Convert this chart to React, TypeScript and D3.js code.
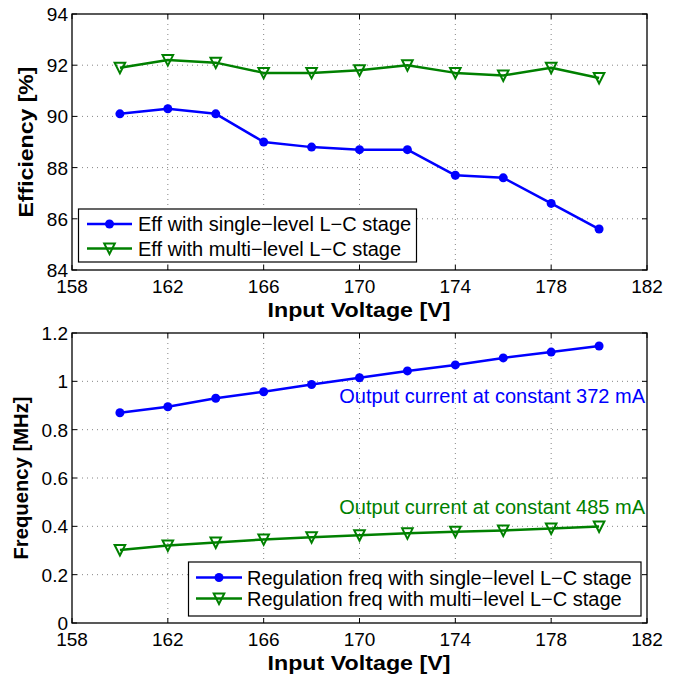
import React from "react";
import * as d3 from "d3";

// input voltage [V]
const voltages = [160, 162, 164, 166, 168, 170, 172, 174, 176, 178, 180];
const voltageTicks = [158, 162, 166, 170, 174, 178, 182];

// efficiency [%]
const effSingle = [90.1, 90.3, 90.1, 89.0, 88.8, 88.7, 88.7, 87.7, 87.6, 86.6, 85.6];
const effMulti = [91.9, 92.2, 92.1, 91.7, 91.7, 91.8, 92.0, 91.7, 91.6, 91.9, 91.5];
const effTicks = [84, 86, 88, 90, 92, 94];

// regulation frequency [MHz]
const freqSingle = [0.87, 0.895, 0.93, 0.957, 0.987, 1.015, 1.043, 1.068, 1.097, 1.121, 1.146];
const freqMulti = [0.302, 0.321, 0.333, 0.346, 0.355, 0.363, 0.371, 0.378, 0.383, 0.391, 0.399];
const freqTicks = [0, 0.2, 0.4, 0.6, 0.8, 1, 1.2];

const effLegend = ["Eff with single\u2212level L\u2212C stage", "Eff with multi\u2212level L\u2212C stage"];
const freqLegend = [
  "Regulation freq with single\u2212level L\u2212C stage",
  "Regulation freq with multi\u2212level L\u2212C stage",
];

const BLUE = "#0000ff";
const GREEN = "#008000";
const FONT = "'Liberation Sans', Arial, Helvetica, sans-serif";

const left = 72;
const right = 647;

const Triangle = ({ x, y }) => (
  <path
    d={`M${x - 5.3},${y - 5}L${x + 5.3},${y - 5}L${x},${y + 5.5}Z`}
    fill="none"
    stroke={GREEN}
    strokeWidth={2}
    strokeLinejoin="miter"
  />
);

const Dot = ({ x, y }) => <circle cx={x} cy={y} r={4.5} fill={BLUE} />;

const Legend = ({ box, lineX, textX, rowsY, labels }) => (
  <g>
    <rect
      x={box.x}
      y={box.y}
      width={box.w}
      height={box.h}
      fill="#fff"
      stroke="#000"
      strokeWidth={1.2}
    />
    {labels.map((label, i) => {
      const cy = rowsY[i];
      const mid = (lineX[0] + lineX[1]) / 2;
      const color = i === 0 ? BLUE : GREEN;
      return (
        <g key={label}>
          <line x1={lineX[0]} x2={lineX[1]} y1={cy} y2={cy} stroke={color} strokeWidth={2.5} />
          {i === 0 ? <Dot x={mid} y={cy} /> : <Triangle x={mid} y={cy} />}
          <text x={textX} y={cy + 7} fontSize={20} fontFamily={FONT} fill="#000">
            {label}
          </text>
        </g>
      );
    })}
  </g>
);

const Panel = ({ top, bottom, yDomain, yTicks, yLabel, yLabelX, ySingle, yMulti, legend, labelLength, children }) => {
  const x = d3.scaleLinear().domain([158, 182]).range([left, right]);
  const y = d3.scaleLinear().domain(yDomain).range([bottom, top]);
  const line = d3
    .line<number>()
    .x((d, i) => x(voltages[i]))
    .y((d) => y(d));
  const tickLen = 5;

  return (
    <g>
      {/* grid */}
      {voltageTicks.slice(1, -1).map((t) => (
        <line key={"gx" + t} x1={x(t)} x2={x(t)} y1={top} y2={bottom} stroke="#666" strokeWidth={0.8} strokeDasharray="1 4" />
      ))}
      {yTicks.slice(1, -1).map((t) => (
        <line key={"gy" + t} x1={left} x2={right} y1={y(t)} y2={y(t)} stroke="#666" strokeWidth={0.8} strokeDasharray="1 4" />
      ))}

      {/* frame and inward ticks */}
      <rect x={left} y={top} width={right - left} height={bottom - top} fill="none" stroke="#000" strokeWidth={1.3} />
      {voltageTicks.map((t) => (
        <g key={"tx" + t}>
          <line x1={x(t)} x2={x(t)} y1={bottom} y2={bottom - tickLen} stroke="#000" strokeWidth={1} />
          <line x1={x(t)} x2={x(t)} y1={top} y2={top + tickLen} stroke="#000" strokeWidth={1} />
          <text x={x(t)} y={bottom + 23} textAnchor="middle" fontSize={19} fontFamily={FONT}>
            {t}
          </text>
        </g>
      ))}
      {yTicks.map((t) => (
        <g key={"ty" + t}>
          <line x1={left} x2={left + tickLen} y1={y(t)} y2={y(t)} stroke="#000" strokeWidth={1} />
          <line x1={right} x2={right - tickLen} y1={y(t)} y2={y(t)} stroke="#000" strokeWidth={1} />
          <text x={left - 4} y={y(t) + 7} textAnchor="end" fontSize={19} fontFamily={FONT}>
            {d3.format("~g")(t)}
          </text>
        </g>
      ))}

      {/* axis labels */}
      <text
        x={(left + right) / 2 - 0.5}
        y={bottom + 46.5}
        textAnchor="middle"
        fontSize={20}
        fontWeight="bold"
        fontFamily={FONT}
        textLength={183}
        lengthAdjust="spacingAndGlyphs"
      >
        Input Voltage [V]
      </text>
      <text
        transform={`translate(${yLabelX},${(top + bottom) / 2}) rotate(-90)`}
        textAnchor="middle"
        fontSize={20}
        fontWeight="bold"
        fontFamily={FONT}
        textLength={labelLength}
        lengthAdjust="spacingAndGlyphs"
      >
        {yLabel}
      </text>

      {/* series */}
      <path d={line(ySingle) ?? ""} fill="none" stroke={BLUE} strokeWidth={2.5} strokeLinejoin="round" />
      <path d={line(yMulti) ?? ""} fill="none" stroke={GREEN} strokeWidth={2.5} strokeLinejoin="round" />
      {ySingle.map((d, i) => (
        <Dot key={"s" + i} x={x(voltages[i])} y={y(d)} />
      ))}
      {yMulti.map((d, i) => (
        <Triangle key={"m" + i} x={x(voltages[i])} y={y(d)} />
      ))}

      {children}
      {legend}
    </g>
  );
};

export default function App() {
  return (
    <svg
      width={683}
      height={681}
      style={{ position: "absolute", left: 0, top: 0, background: "#fff" }}
    >
      <Panel
        top={14}
        bottom={270}
        yDomain={[84, 94]}
        yTicks={effTicks}
        yLabel="Efficiency [%]"
        yLabelX={33}
        labelLength={151}
        ySingle={effSingle}
        yMulti={effMulti}
        legend={
          <Legend
            box={{ x: 78.5, y: 209, w: 338, h: 53 }}
            lineX={[87, 132]}
            textX={138}
            rowsY={[224, 248.5]}
            labels={effLegend}
          />
        }
      />
      <Panel
        top={333}
        bottom={623}
        yDomain={[0, 1.2]}
        yTicks={freqTicks}
        yLabel="Frequency [MHz]"
        yLabelX={28}
        labelLength={163}
        ySingle={freqSingle}
        yMulti={freqMulti}
        legend={
          <Legend
            box={{ x: 188.5, y: 562, w: 452.5, h: 54 }}
            lineX={[196, 242]}
            textX={247}
            rowsY={[577.5, 598.5]}
            labels={freqLegend}
          />
        }
      >
        <text x={645} y={403} textAnchor="end" fontSize={20} fontFamily={FONT} fill={BLUE}>
          Output current at constant 372 mA
        </text>
        <text x={645} y={513.5} textAnchor="end" fontSize={20} fontFamily={FONT} fill={GREEN}>
          Output current at constant 485 mA
        </text>
      </Panel>
    </svg>
  );
}
